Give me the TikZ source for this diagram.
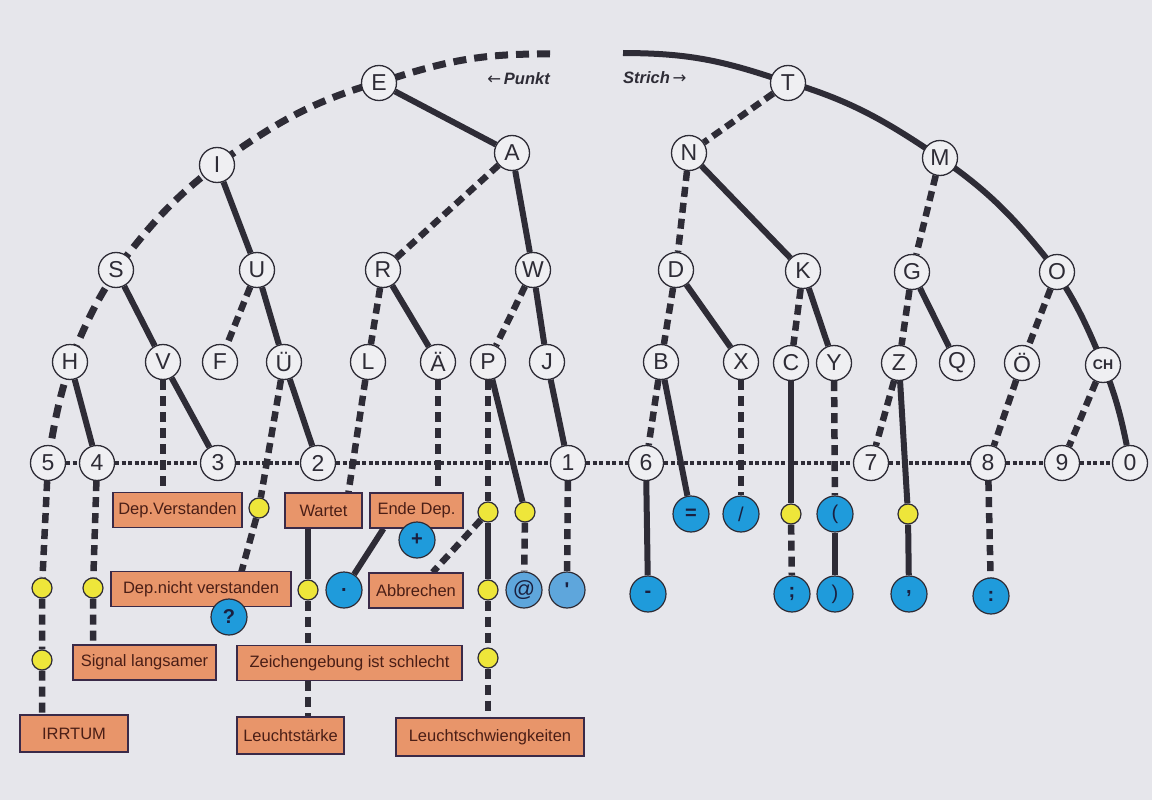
\documentclass[tikz,border=0pt]{standalone}
\usepackage{fontspec}
\setmainfont{Liberation Sans}
\newfontfamily\arrowfont{DejaVu Sans}
\definecolor{paper}{HTML}{E6E6EB}
\definecolor{linec}{HTML}{2E2C36}
\definecolor{nodefill}{HTML}{EFEFF2}
\definecolor{boxfill}{HTML}{E8956A}
\definecolor{boxline}{HTML}{3A2A48}
\definecolor{boxtext}{HTML}{4A1E16}
\definecolor{bluec}{HTML}{1F9BDB}
\definecolor{lbluec}{HTML}{5EA6DC}
\definecolor{yellowc}{HTML}{EEE63A}
\definecolor{navy}{HTML}{1A2040}
\pgfdeclarelayer{paperlayer}
\pgfdeclarelayer{edges}
\pgfsetlayers{paperlayer,edges,main}
\begin{document}
\begin{tikzpicture}[x=1pt,y=-1pt,
  letter/.style={circle, draw=linec, line width=1.3pt, fill=nodefill, minimum size=35pt, inner sep=0pt, text=linec, font=\fontsize{23}{23}\selectfont},
  yel/.style={circle, draw=linec, line width=1.2pt, fill=yellowc, minimum size=20pt, inner sep=0pt},
  blu/.style={circle, draw=linec, line width=1.2pt, fill=bluec, minimum size=36pt, inner sep=0pt, text=navy, font=\fontsize{20}{20}\selectfont\bfseries},
  lblu/.style={blu, fill=lbluec},
  msgbox/.style={rectangle, draw=boxline, line width=1.3pt, fill=boxfill, minimum height=35pt, inner sep=0pt, text=boxtext, font=\fontsize{16.5}{16.5}\selectfont},
  se/.style={draw=linec, line width=6pt},
  pe/.style={draw=linec, line width=6.5pt, dash pattern=on 10pt off 6pt},
  arcp/.style={draw=linec, line width=7pt, dash pattern=on 13pt off 8pt},
  arcs/.style={draw=linec, line width=6pt},
  numl/.style={draw=linec, line width=4.5pt, dash pattern=on 4pt off 2.5pt},
  lbl/.style={font=\fontsize{16.5}{16.5}\selectfont\bfseries\itshape, text=linec, inner sep=0pt}
]
\begin{pgfonlayer}{paperlayer}
\fill[paper] (0,0) rectangle (1152,800);
\end{pgfonlayer}
\useasboundingbox (0,0) rectangle (1152,800);

% ---- letters
\node[letter] (E) at (379,83) {E};
\node[letter] (T) at (788,83) {T};
\node[letter] (I) at (217,165) {I};
\node[letter] (A) at (512,153) {A};
\node[letter] (N) at (689,153) {N};
\node[letter] (M) at (940,158) {M};
\node[letter] (S) at (116,270) {S};
\node[letter] (U) at (257,270) {U};
\node[letter] (R) at (383,270) {R};
\node[letter] (W) at (533,270) {W};
\node[letter] (D) at (676,270) {D};
\node[letter] (K) at (803,271) {K};
\node[letter] (G) at (912,272) {G};
\node[letter] (O) at (1057,272) {O};
\node[letter] (H) at (70,362) {H};
\node[letter] (V) at (163,362) {V};
\node[letter] (F) at (220,362) {F};
\node[letter] (UE) at (284,362) {Ü};
\node[letter] (L) at (368,362) {L};
\node[letter] (AE) at (438,362) {Ä};
\node[letter] (P) at (488,362) {P};
\node[letter] (J) at (547,362) {J};
\node[letter] (B) at (661,362) {B};
\node[letter] (X) at (741,362) {X};
\node[letter] (C) at (791,363) {C};
\node[letter] (Y) at (834,363) {Y};
\node[letter] (Z) at (899,363) {Z};
\node[letter] (Q) at (957,363) {Q};
\node[letter] (OE) at (1022,363) {Ö};
\node[letter, font=\fontsize{14}{14}\selectfont\bfseries] (CH) at (1103,365) {CH};

% ---- numbers
\node[letter] (n5) at (48,463) {5};
\node[letter] (n4) at (97,463) {4};
\node[letter] (n3) at (218,463) {3};
\node[letter] (n2) at (318,463) {2};
\node[letter] (n1) at (568,463) {1};
\node[letter] (n6) at (646,463) {6};
\node[letter] (n7) at (871,463) {7};
\node[letter] (n8) at (988,463) {8};
\node[letter] (n9) at (1062,463) {9};
\node[letter] (n0) at (1130,463) {0};

% ---- boxes
\node[msgbox, minimum width=129pt] (depv) at (177.5,510) {Dep.Verstanden};
\node[msgbox, minimum width=77pt] (wartet) at (323.5,510.5) {Wartet};
\node[msgbox, minimum width=93pt] (ende) at (416.5,510.5) {Ende Dep.};
\node[msgbox, minimum width=180pt] (depn) at (201,589) {Dep.nicht verstanden};
\node[msgbox, minimum width=94pt] (abbr) at (416,590.5) {Abbrechen};
\node[msgbox, minimum width=143pt] (signal) at (144.5,662.5) {Signal langsamer};
\node[msgbox, minimum width=225pt] (zeich) at (349.5,663) {Zeichengebung ist schlecht};
\node[msgbox, minimum width=108pt, minimum height=37pt] (irrtum) at (74,733.5) {IRRTUM};
\node[msgbox, minimum width=107pt, minimum height=37pt] (leucht) at (290.5,735.5) {Leuchtstärke};
\node[msgbox, minimum width=188pt, minimum height=38pt] (lsch) at (490,737) {Leuchtschwiengkeiten};

% ---- yellow dots
\node[yel] (yUE) at (259,508) {};
\node[yel] (y5a) at (42,588) {};
\node[yel] (y5b) at (42,660) {};
\node[yel] (y4) at (93,588) {};
\node[yel] (yW) at (308,590) {};
\node[yel] (yP1) at (488,512) {};
\node[yel] (yP2) at (525,512) {};
\node[yel] (yP3) at (488,590) {};
\node[yel] (yP4) at (488,658) {};
\node[yel] (yC) at (791,514) {};
\node[yel] (yZ) at (908,514) {};

% ---- blue punctuation
\node[blu] (qm) at (229,617) {?};
\node[blu] (pdot) at (344,590) {.};
\node[blu] (plus) at (417,540) {+};
\node[lblu, font=\fontsize{22}{22}\selectfont] (at) at (524,590) {@};
\node[lblu] (apos) at (567,590) {\textquotesingle};
\node[blu] (minus) at (648,594) {-};
\node[blu] (eq) at (691,514) {=};
\node[blu, font=\fontsize{20}{20}\selectfont] (slash) at (741,514) {/};
\node[blu, font=\fontsize{20}{20}\selectfont] (lpar) at (835,514) {(};
\node[blu] (semi) at (792,594) {;};
\node[blu, font=\fontsize{20}{20}\selectfont] (rpar) at (835,594) {)};
\node[blu] (comma) at (909,594) {,};
\node[blu] (colon) at (991,596) {:};

% ---- top labels
\coordinate (ptop) at (550,54);
\coordinate (pstart) at (623,53);
\node[lbl, anchor=east] (punkt) at (550,79) {{\arrowfont\mdseries\upshape ←}\,Punkt};
\node[lbl, anchor=west] (strich) at (623,78) {Strich\,{\arrowfont\mdseries\upshape →}};

\begin{pgfonlayer}{edges}
% outer arcs
\draw[arcp] (ptop) to[bend right=9] (E) to[bend right=10] (I) to[bend right=8] (S) to[bend right=6] (H) to[bend right=5] (n5);
\draw[arcs] (pstart) to[bend left=9] (T) to[bend left=9] (M) to[bend left=9] (O) to[bend left=6] (CH) to[bend left=6] (n0);
% number line
\draw[numl] (n5) -- (n4) -- (n3) -- (n2) -- (n1) -- (n6) -- (n7) -- (n8) -- (n9) -- (n0);
% tree
\draw[se] (E) -- (A);
\draw[pe] (T) -- (N);
\draw[se] (I) -- (U);
\draw[pe] (A) -- (R);
\draw[se] (A) -- (W);
\draw[pe] (N) -- (D);
\draw[se] (N) -- (K);
\draw[pe] (M) -- (G);
\draw[se] (S) -- (V);
\draw[pe] (U) -- (F);
\draw[se] (U) -- (UE);
\draw[pe] (R) -- (L);
\draw[se] (R) -- (AE);
\draw[pe] (W) -- (P);
\draw[se] (W) -- (J);
\draw[pe] (D) -- (B);
\draw[se] (D) -- (X);
\draw[pe] (K) -- (C);
\draw[se] (K) -- (Y);
\draw[pe] (G) -- (Z);
\draw[se] (G) -- (Q);
\draw[pe] (O) -- (OE);
\draw[se] (H) -- (n4);
\draw[se] (V) -- (n3);
\draw[pe] (V) -- (V |- depv.north);
\draw[se] (UE) -- (n2);
\draw[pe] (UE) -- (yUE) -- (qm);
\draw[pe] (L) -- ([xshift=25pt]wartet.north);
\draw[se] (yW |- wartet.south) -- (yW);
\draw[pe] (yW) -- (yW |- zeich.north);
\draw[pe] (yW |- zeich.south) -- (yW |- leucht.north);
\draw[pe] (AE) -- (AE |- ende.north);
\draw[se] ([xshift=-33pt]ende.south) -- (pdot);
\draw[pe] (P) -- (yP1);
\draw[se] (P) -- (yP2);
\draw[se] (yP1) -- (yP3);
\draw[pe] (yP1) -- (abbr);
\draw[pe] (yP3) -- (yP4);
\draw[pe] (yP4) -- (yP4 |- lsch.north);
\draw[pe] (yP2) -- (at);
\draw[se] (J) -- (n1);
\draw[pe] (n1) -- (apos);
\draw[pe] (B) -- (n6);
\draw[se] (B) -- (eq);
\draw[se] (n6) -- (minus);
\draw[pe] (X) -- (slash);
\draw[se] (C) -- (yC);
\draw[pe] (yC) -- (semi);
\draw[pe] (Y) -- (lpar);
\draw[se] (lpar) -- (rpar);
\draw[pe] (Z) -- (n7);
\draw[se] (Z) -- (yZ);
\draw[se] (yZ) -- (comma);
\draw[pe] (OE) -- (n8);
\draw[pe] (n8) -- (colon);
\draw[pe] (CH) -- (n9);
\draw[pe] (n5) -- (y5a) -- (y5b) -- (y5b |- irrtum.north);
\draw[pe] (n4) -- (y4) -- (y4 |- signal.north);
\end{pgfonlayer}
\end{tikzpicture}
\end{document}
